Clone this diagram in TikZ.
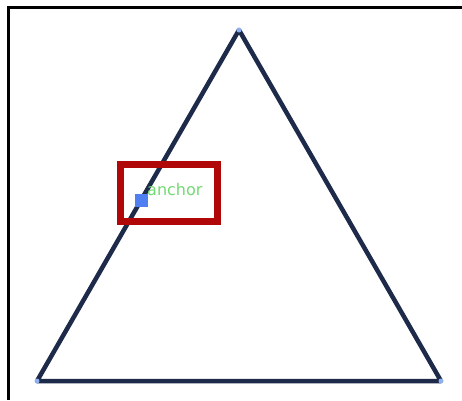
\documentclass[tikz,border=0pt]{standalone}
\usepackage{fontspec}
\newfontfamily\labelfont{DejaVu Sans}
\definecolor{navy}{HTML}{1E2A4A}
\definecolor{frame red}{HTML}{B00808}
\definecolor{anchor blue}{HTML}{4F7FF0}
\definecolor{anchor green}{HTML}{74DA74}
\definecolor{vertex blue}{HTML}{8FB0F0}
\tikzset{
  edge/.style={draw=navy, line width=4.5pt, line join=round},
  vertexdot/.style={circle, fill=vertex blue, inner sep=0pt, minimum size=5pt},
  highlight/.style={draw=frame red, line width=7pt},
  anchorsq/.style={fill=anchor blue, inner sep=0pt, minimum size=13pt},
  anchortext/.style={text=anchor green, font=\labelfont\fontsize{16}{18}\selectfont, inner sep=0pt, anchor=west},
  border/.style={draw=black, line width=3pt}
}
\begin{document}
\begin{tikzpicture}[x=1pt,y=-1pt]
\useasboundingbox (0,0) rectangle (462,400);
\fill[white] (0,0) rectangle (462,400);
\draw[border] (8.5,400) -- (8.5,7.5) -- (462,7.5);
\coordinate (T) at (239,30);
\coordinate (L) at (37,381);
\coordinate (R) at (441,381);
\draw[edge] (T) -- (L) -- (R) -- cycle;
\node[vertexdot] (t) at (T) {};
\node[vertexdot] (l) at (L) {};
\node[vertexdot] (r) at (R) {};
\draw[highlight] (120.5,164.5) rectangle (217.5,221.5);
\node[anchorsq] (a) at (141,200) {};
\node[anchortext] (lbl) at (147,190) {anchor};
\end{tikzpicture}
\end{document}
